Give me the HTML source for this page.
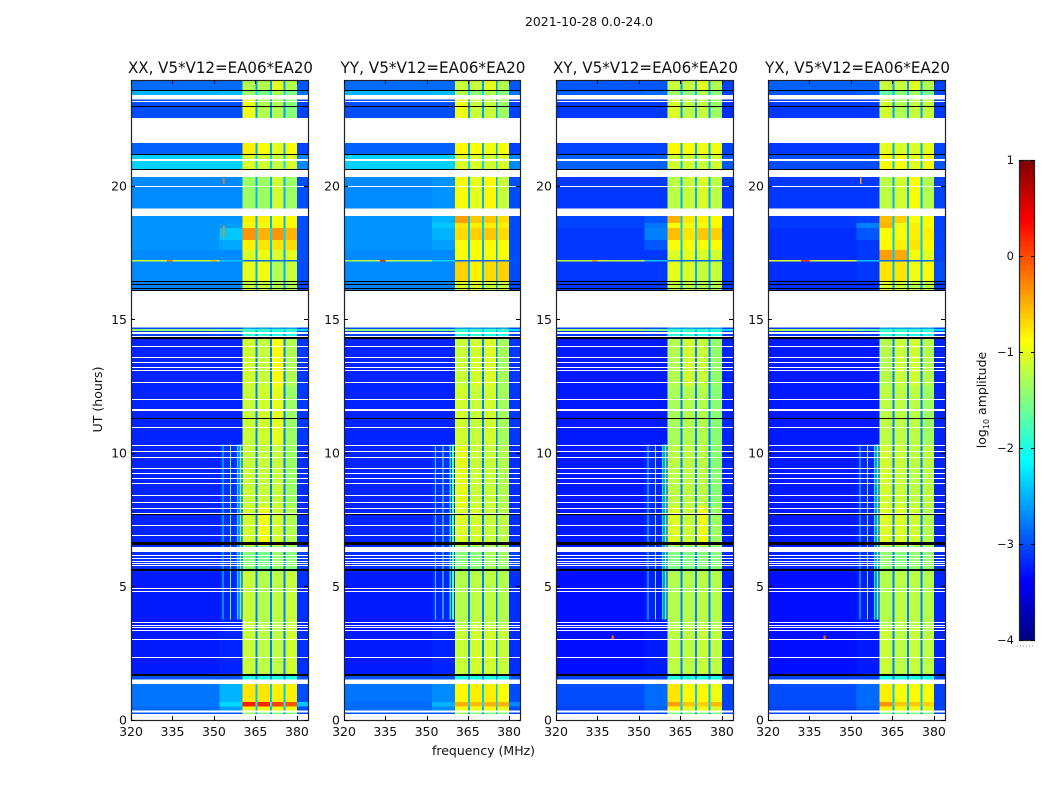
<!DOCTYPE html>
<html lang="en">
<head>
<meta charset="utf-8">
<title>2021-10-28 0.0-24.0</title>
<style>
html,body{margin:0;padding:0;background:#fff;width:1050px;height:800px;overflow:hidden}
svg{display:block}
text{font-family:"DejaVu Sans","Liberation Sans",sans-serif;fill:#111}
</style>
</head>
<body>
<svg id="figure" xmlns="http://www.w3.org/2000/svg" width="1050" height="800" viewBox="0 0 1050 800">
  <rect x="0" y="0" width="1050" height="800" fill="#fff"/>
  <text x="589" y="26" font-size="12.5" text-anchor="middle" textLength="128" lengthAdjust="spacingAndGlyphs">2021-10-28 0.0-24.0</text>
  <g id="panels"></g>
  <text x="483.5" y="755" font-size="12.5" text-anchor="middle" textLength="103" lengthAdjust="spacingAndGlyphs">frequency (MHz)</text>
  <text transform="translate(102,399.5) rotate(-90)" font-size="12.5" text-anchor="middle" textLength="66" lengthAdjust="spacingAndGlyphs">UT (hours)</text>
  <text transform="translate(986,400) rotate(-90)" font-size="12.5" text-anchor="middle">log<tspan font-size="8" dy="3">10</tspan><tspan dy="-3"> amplitude</tspan></text>
  <g id="colorbar"></g>
</svg>
<script>
// ---- chart data (hours, MHz, log10 amplitude) ----
const panelTitles = ["XX, V5*V12=EA06*EA20", "YY, V5*V12=EA06*EA20", "XY, V5*V12=EA06*EA20", "YX, V5*V12=EA06*EA20"];
const xTicks = [320, 335, 350, 365, 380];
const yTicks = [0, 5, 10, 15, 20];
const colorTicks = [1, 0, -1, -2, -3, -4];
// band index per frequency segment: 0 low, 1 near, 2-5 sub-bands, 6 gap, 7 high
const freqEdges = [320, 352, 360.4, 365.1, 365.8, 370.2, 370.9, 375.2, 375.9, 380, 384];
const segmentBand = [0, 1, 2, 6, 3, 6, 4, 6, 5, 7];
const rowTimes = [[23.95,23.58],[23.58,23.39],[23.23,22.53],[21.59,21.18],[21.18,20.62],[20.32,19.13],[18.86,18.6],[18.6,18.41],[18.41,17.96],[17.96,17.58],[17.58,17.21],[17.21,17.16],[17.16,16.42],[16.42,16.05],[14.62,14.55],[14.55,14.28],[14.28,12.5],[12.5,10.3],[10.3,8.0],[8.0,6.5],[6.5,5.55],[5.55,3.5],[3.5,1.65],[1.65,1.5],[1.33,0.65],[0.65,0.48],[0.48,0.33],[0.26,0.2],[14.68,14.62]];
const valuesXX = [
[-2.85,-2.85,-1.25,-1.25,-1.0,-1.25,-2.6,-2.95],[-2.5,-2.45,-1.35,-1.55,-1.25,-1.5,-2.3,-2.8],[-3.0,-3.0,-0.95,-1.25,-1.25,-1.45,-2.6,-3.05],
[-2.9,-2.9,-0.8,-0.9,-1.0,-0.9,-2.5,-3.05],[-2.35,-2.35,-1.05,-1.1,-1.15,-1.05,-2.3,-2.7],[-2.7,-2.7,-1.35,-1.35,-1.1,-1.35,-2.5,-3.0],
[-2.65,-2.65,-0.8,-0.8,-0.9,-0.85,-2.5,-3.0],[-2.65,-2.6,-0.95,-0.95,-0.85,-0.85,-2.5,-3.0],[-2.65,-2.4,-0.35,-0.5,-0.35,-0.5,-2.3,-3.0],
[-2.65,-2.55,-0.8,-0.75,-0.75,-0.7,-2.4,-3.0],[-2.7,-2.7,-1.05,-0.95,-1.05,-1.0,-2.5,-3.0],[-1.15,-2.4,-2.85,-2.85,-2.85,-2.85,-3.0,-2.95],
[-2.7,-2.7,-1.0,-0.95,-1.25,-1.15,-2.5,-3.0],[-2.75,-2.75,-1.15,-1.15,-1.25,-1.25,-2.6,-3.05],[-1.4,-1.6,-1.8,-1.8,-1.8,-1.8,-2.2,-2.3],
[-3.05,-3.05,-1.9,-1.9,-2.0,-2.0,-2.7,-3.05],[-3.2,-3.2,-1.1,-1.15,-0.9,-1.25,-2.75,-3.1],[-3.2,-3.2,-1.15,-1.1,-1.0,-1.35,-2.75,-3.1],
[-3.2,-3.15,-1.15,-1.15,-1.15,-1.35,-2.75,-3.15],[-3.2,-3.15,-1.1,-0.95,-1.1,-1.25,-2.75,-3.15],[-3.15,-3.1,-1.45,-1.55,-1.35,-1.45,-2.75,-3.05],
[-3.25,-3.2,-1.15,-1.25,-1.2,-1.15,-2.75,-3.15],[-3.25,-3.2,-1.15,-1.2,-1.2,-1.1,-2.75,-3.15],[-2.95,-2.95,-2.0,-2.0,-2.0,-2.0,-2.7,-2.95],
[-2.8,-2.5,-0.75,-0.75,-0.8,-0.8,-2.4,-3.0],[-2.8,-2.3,0.25,0.2,0.05,-0.05,-2.2,-2.4],[-2.85,-2.6,-0.95,-0.95,-0.95,-0.95,-2.5,-3.0],[-2.95,-2.95,-1.35,-1.45,-1.45,-1.45,-2.7,-3.05],[-3.0,-3.0,-2.6,-2.6,-2.6,-2.6,-2.8,-3.0]];
const valuesYY = [
[-2.85,-2.85,-1.15,-1.15,-1.0,-1.25,-2.6,-2.95],[-2.5,-2.45,-1.25,-1.45,-1.25,-1.45,-2.3,-2.8],[-3.0,-3.0,-0.95,-1.15,-1.15,-1.35,-2.6,-3.05],
[-2.9,-2.9,-0.85,-0.9,-0.95,-0.9,-2.5,-3.05],[-2.35,-2.35,-1.05,-1.05,-1.1,-1.05,-2.3,-2.7],[-2.7,-2.65,-0.9,-1.0,-0.85,-1.15,-2.5,-3.0],
[-2.65,-2.5,-0.4,-0.6,-0.6,-0.7,-2.4,-3.0],[-2.65,-2.4,-0.75,-0.8,-0.8,-0.8,-2.4,-3.0],[-2.65,-2.5,-0.7,-0.65,-0.6,-0.7,-2.4,-3.0],
[-2.65,-2.6,-0.9,-0.9,-0.85,-0.9,-2.5,-3.0],[-2.7,-2.7,-0.9,-0.9,-0.9,-0.9,-2.5,-3.0],[-1.25,-2.3,-2.85,-2.85,-2.85,-2.85,-3.0,-2.95],
[-2.7,-2.7,-0.65,-0.8,-0.7,-0.65,-2.5,-3.0],[-2.75,-2.75,-1.05,-1.05,-1.15,-1.15,-2.6,-3.05],[-1.4,-1.6,-1.8,-1.8,-1.8,-1.8,-2.2,-2.3],
[-3.05,-3.05,-1.9,-1.9,-2.0,-2.0,-2.7,-3.05],[-3.2,-3.2,-1.15,-1.1,-1.05,-1.3,-2.75,-3.1],[-3.2,-3.2,-1.1,-1.15,-1.1,-1.3,-2.75,-3.1],
[-3.2,-3.15,-1.0,-1.15,-1.15,-1.25,-2.75,-3.15],[-3.2,-3.15,-1.05,-1.1,-1.15,-1.2,-2.75,-3.15],[-3.15,-3.1,-1.45,-1.45,-1.3,-1.35,-2.75,-3.05],
[-3.25,-3.2,-1.25,-1.2,-1.2,-1.25,-2.75,-3.15],[-3.25,-3.2,-1.15,-1.1,-1.1,-1.15,-2.75,-3.15],[-2.95,-2.95,-2.0,-2.0,-2.0,-2.0,-2.7,-2.95],
[-2.8,-2.7,-0.85,-0.8,-0.8,-0.9,-2.4,-3.0],[-2.85,-2.5,-0.5,-0.55,-0.5,-0.5,-2.3,-2.7],[-2.85,-2.7,-0.9,-0.95,-0.9,-0.95,-2.5,-3.0],[-2.95,-2.95,-1.35,-1.45,-1.45,-1.45,-2.7,-3.05],[-3.0,-3.0,-2.6,-2.6,-2.6,-2.6,-2.8,-3.0]];
const valuesXY = [
[-2.95,-2.95,-1.15,-1.15,-1.0,-1.25,-2.6,-3.05],[-2.9,-2.85,-1.35,-1.45,-1.25,-1.45,-2.4,-3.05],[-3.1,-3.1,-1.05,-1.2,-1.15,-1.35,-2.6,-3.15],
[-3.05,-3.05,-0.85,-0.9,-0.95,-0.95,-2.5,-3.05],[-2.9,-2.9,-1.1,-1.1,-1.15,-1.1,-2.4,-2.95],[-3.1,-3.1,-1.2,-1.15,-1.05,-1.2,-2.5,-3.1],
[-3.05,-2.95,-0.5,-0.75,-0.8,-0.85,-2.4,-3.1],[-3.05,-2.8,-0.9,-0.95,-0.9,-0.85,-2.4,-3.1],[-3.1,-2.75,-0.55,-0.75,-0.6,-0.65,-2.3,-3.1],
[-3.1,-2.95,-0.9,-0.9,-0.9,-0.9,-2.4,-3.1],[-3.1,-3.1,-1.05,-1.0,-1.05,-1.1,-2.5,-3.1],[-1.2,-2.4,-2.85,-2.85,-2.85,-2.85,-3.0,-3.05],
[-3.1,-3.1,-1.0,-1.05,-1.15,-1.15,-2.5,-3.1],[-3.1,-3.1,-1.15,-1.2,-1.25,-1.25,-2.6,-3.1],[-1.3,-1.6,-1.8,-1.8,-1.8,-1.8,-2.2,-2.3],
[-3.1,-3.1,-1.9,-1.9,-2.0,-2.0,-2.7,-3.1],[-3.25,-3.25,-1.25,-1.1,-1.15,-1.4,-2.75,-3.2],[-3.25,-3.25,-1.3,-1.25,-1.25,-1.45,-2.75,-3.2],
[-3.25,-3.2,-1.2,-1.2,-1.2,-1.45,-2.75,-3.2],[-3.25,-3.2,-1.05,-1.15,-0.95,-1.35,-2.75,-3.2],[-3.2,-3.15,-1.5,-1.5,-1.45,-1.45,-2.75,-3.15],
[-3.3,-3.25,-1.25,-1.25,-1.2,-1.25,-2.75,-3.2],[-3.3,-3.25,-1.2,-1.2,-1.15,-1.2,-2.75,-3.2],[-3.05,-3.05,-2.0,-2.0,-2.0,-2.0,-2.7,-3.05],
[-3.0,-2.85,-0.75,-0.85,-0.85,-0.95,-2.4,-3.05],[-3.0,-2.85,-0.4,-0.6,-0.65,-0.55,-2.3,-3.05],[-3.05,-2.9,-0.9,-1.0,-0.95,-1.05,-2.5,-3.05],[-3.05,-3.05,-1.45,-1.45,-1.45,-1.45,-2.7,-3.05],[-3.05,-3.05,-2.6,-2.6,-2.6,-2.6,-2.8,-3.05]];
const valuesYX = [
[-2.9,-2.9,-1.15,-1.15,-1.0,-1.25,-2.6,-3.05],[-2.95,-2.9,-1.65,-1.45,-1.35,-1.55,-2.4,-3.05],[-3.1,-3.1,-1.1,-1.25,-1.15,-1.15,-2.6,-3.1],
[-3.1,-3.1,-1.0,-1.05,-1.05,-1.0,-2.5,-3.05],[-3.0,-3.0,-0.85,-0.9,-1.0,-0.9,-2.4,-2.95],[-3.1,-3.1,-1.2,-1.1,-0.9,-1.25,-2.5,-3.05],
[-3.1,-3.05,-0.55,-0.65,-0.9,-0.85,-2.4,-3.05],[-3.1,-2.75,-0.5,-0.95,-0.8,-0.9,-2.4,-3.05],[-3.15,-2.95,-0.9,-0.9,-0.8,-0.8,-2.4,-3.05],
[-3.15,-3.1,-0.85,-0.8,-0.75,-0.85,-2.4,-3.05],[-3.15,-3.1,-0.4,-0.45,-0.9,-1.0,-2.4,-3.05],[-1.05,-2.4,-2.85,-2.85,-2.85,-2.85,-3.0,-3.05],
[-3.15,-3.1,-0.75,-0.75,-0.95,-0.9,-2.5,-3.0],[-3.15,-3.15,-1.05,-1.1,-1.2,-1.2,-2.6,-3.1],[-1.3,-1.6,-1.8,-1.8,-1.8,-1.8,-2.2,-2.3],
[-3.1,-3.1,-1.9,-1.9,-2.0,-2.0,-2.7,-3.1],[-3.25,-3.25,-1.25,-1.15,-1.1,-1.25,-2.75,-3.2],[-3.25,-3.25,-1.2,-1.2,-1.2,-1.35,-2.75,-3.2],
[-3.25,-3.2,-1.1,-1.15,-1.2,-1.2,-2.75,-3.2],[-3.25,-3.2,-1.05,-1.05,-1.1,-1.25,-2.75,-3.2],[-3.2,-3.15,-1.4,-1.45,-1.4,-1.4,-2.75,-3.15],
[-3.3,-3.25,-1.25,-1.2,-1.2,-1.25,-2.75,-3.2],[-3.3,-3.25,-1.15,-1.2,-1.15,-1.2,-2.75,-3.2],[-3.05,-3.05,-2.0,-2.0,-2.0,-2.0,-2.7,-3.05],
[-3.0,-2.85,-0.8,-0.9,-0.85,-0.9,-2.4,-3.05],[-3.0,-2.85,-0.35,-0.6,-0.6,-0.65,-2.3,-3.05],[-3.05,-2.9,-0.8,-0.95,-0.95,-1.0,-2.5,-3.05],[-3.05,-3.05,-1.45,-1.45,-1.45,-1.45,-2.7,-3.05],[-3.05,-3.05,-2.6,-2.6,-2.6,-2.6,-2.8,-3.05]];
const panelValues = [valuesXX, valuesYY, valuesXY, valuesYX];
// vertical interference tones: [f0, f1, t0, t1, log10 amplitude]
const toneBands = [[353.0,353.4,10.3,3.75,-2.2],[355.8,356.2,10.3,3.75,-1.7],[358.3,358.9,10.3,3.75,-2.2],[359.2,360.0,10.3,3.75,-1.7]];
// flagged (blank) rows: [t0, t1]
const flaggedRows = [[23.39,23.23],[23.15,23.1],[21.0,20.93],[20.0,19.96],[14.5,14.42],[14.38,14.33],[13.98,13.95],[13.58,13.54],[13.4,13.37],[13.22,13.19],[13.1,13.05],[12.65,12.62],[12.0,11.95],[11.63,11.56],[10.95,10.92],[10.28,10.24],[10.05,10.0],[9.85,9.8],[9.42,9.39],[9.24,9.21],[9.05,9.02],[8.85,8.8],[8.42,8.39],[8.15,8.12],[7.92,7.89],[7.72,7.69],[7.28,7.25],[6.92,6.89],[6.45,6.28],[6.15,6.12],[6.05,6.02],[5.93,5.9],[5.85,5.82],[5.78,5.75],[4.94,4.91],[4.8,4.78],[3.64,3.61],[3.55,3.53],[3.46,3.43],[3.36,3.33],[3.01,2.98],[2.33,2.3]];
// dropout (black) rows: [t0, t1]
const dropoutRows = [[23.58,23.56],[22.98,22.94],[21.18,21.15],[20.62,20.57],[16.42,16.38],[16.31,16.27],[16.16,16.12],[16.07,16.04],[14.32,14.25],[11.28,11.25],[7.7,7.66],[6.63,6.52],[5.62,5.55],[1.71,1.64]];
// isolated hot interference: [panel, f0, f1, t0, t1, log10 amplitude]
const hotSpots = [[0,353.2,353.8,20.3,20.05,-0.2],[3,353.2,353.8,20.3,20.05,-0.4],[0,353.2,353.8,18.5,18.05,-0.3],[2,340,341,3.15,3.0,0.0],[3,340,341,3.15,3.0,0.0],[0,333,335,17.21,17.16,-0.2],[0,349,351,17.21,17.16,-0.5],[1,333,335,17.21,17.16,0.2],[2,333,335,17.21,17.16,-0.4],[3,332,335,17.21,17.16,0.1]];

// ---- axis functions ----
const panelLefts = [131, 344, 556, 768];
const panelRights = [308, 520, 733, 945];
const plotTop = 80, plotBottom = 720;
const xMin = 320, xMax = 384, yAtZero = 719.5, pxPerHour = 26.7;
const colorTop = 160, colorBottom = 640, colorLeft = 1019, colorRight = 1035;
const svgNS = "http://www.w3.org/2000/svg";
function xScale(p, f){ return panelLefts[p] + (f - xMin) * (panelRights[p] - panelLefts[p]) / (xMax - xMin); }
function yScale(t){ return Math.max(plotTop, Math.min(plotBottom, yAtZero - t * pxPerHour)); }
function colorScale(v){ return colorBottom - (v + 4) * (colorBottom - colorTop) / 5; }
function clamp01(v){ return Math.max(0, Math.min(1, v)); }
function jet(v){
  const x = clamp01((v + 4) / 5);
  const r = clamp01(1.5 - Math.abs(4 * x - 3));
  const g = clamp01(1.5 - Math.abs(4 * x - 2));
  const b = clamp01(1.5 - Math.abs(4 * x - 1));
  return "rgb(" + Math.round(r * 255) + "," + Math.round(g * 255) + "," + Math.round(b * 255) + ")";
}
function shape(parent, tag, props){
  const el = document.createElementNS(svgNS, tag);
  for (const k in props) el.setAttribute(k, props[k]);
  parent.appendChild(el);
  return el;
}
function label(parent, x, y, str, anchor, size){
  const el = shape(parent, "text", {x: x, y: y, "font-size": size, "text-anchor": anchor});
  el.textContent = str;
  return el;
}
function cell(parent, x0, x1, y0, y1, fill){
  return shape(parent, "rect", {x: x0, y: y0, width: Math.max(x1 - x0, 0.6), height: Math.max(y1 - y0, 0.6), fill: fill, "shape-rendering": "crispEdges"});
}
function hairline(parent, x0, x1, t0, t1, fill){
  const y = Math.round(yScale(t0));
  const h = Math.max(1, Math.round(yScale(t1) - yScale(t0)));
  return shape(parent, "rect", {x: x0, y: y, width: x1 - x0, height: h, fill: fill, "shape-rendering": "crispEdges"});
}

// ---- panels ----
const panelsRoot = document.getElementById("panels");
panelTitles.forEach(function(title, p){
  const g = shape(panelsRoot, "g", {});
  
  
  const L = panelLefts[p], R = panelRights[p];

  const titleEl = label(g, (L + R) / 2 + 1, 73, title, "middle", 16);
  titleEl.setAttribute("textLength", "185");
  titleEl.setAttribute("lengthAdjust", "spacingAndGlyphs");
  
  

  rowTimes.forEach(function(row, r){
    segmentBand.forEach(function(band, s){
      const c = cell(g, xScale(p, freqEdges[s]), xScale(p, freqEdges[s + 1]), yScale(row[0]), yScale(row[1]), jet(panelValues[p][r][band]));
      
      
    });
  });
  toneBands.forEach(function(tone){
    const c = cell(g, xScale(p, tone[0]), xScale(p, tone[1]), yScale(tone[2]), yScale(tone[3]), jet(tone[4]));
    
    
  });
  hotSpots.forEach(function(spot){
    if (spot[0] !== p) return;
    const c = cell(g, xScale(p, spot[1]), xScale(p, spot[2]), yScale(spot[3]), yScale(spot[4]), jet(spot[5]));
    
    
  });
  flaggedRows.forEach(function(row){
    const c = hairline(g, L, R, row[0], row[1], "#fff");
    
    
  });
  dropoutRows.forEach(function(row){
    const c = hairline(g, L, R, row[0], row[1], "#000");
    
    
  });

  const frame = shape(g, "rect", {x: L + 0.5, y: plotTop + 0.5, width: R - L, height: plotBottom - plotTop, fill: "none", stroke: "#222", "stroke-width": 1.2});
  
  

  xTicks.forEach(function(f){
    const x = Math.round(xScale(p, f)) + 0.5;
    const t1 = shape(g, "line", {x1: x, x2: x, y1: plotBottom, y2: plotBottom - 4, stroke: "#000"});
    
    
    const t2 = shape(g, "line", {x1: x, x2: x, y1: plotTop, y2: plotTop + 4, stroke: "#000"});
    
    
    const tl = label(g, xScale(p, f), 736, String(f), "middle", 12.5);
    
    
  });
  yTicks.forEach(function(t){
    const y = Math.round(yScale(t)) + 0.5;
    const t1 = shape(g, "line", {x1: L, x2: L + 4, y1: y, y2: y, stroke: "#000"});
    
    
    const t2 = shape(g, "line", {x1: R, x2: R - 4, y1: y, y2: y, stroke: "#000"});
    
    
    const tl = label(g, L - 4, yScale(t) + 5, String(t), "end", 12.5);
    
    
  });
});

// ---- colorbar ----
const cb = document.getElementById("colorbar");
for (let i = 0; i < 100; i++) {
  const v = -4 + i * 0.05;
  const swatch = cell(cb, colorLeft, colorRight, colorScale(v + 0.05), colorScale(v) + 0.5, jet(v + 0.025));
  
  
}
const cbFrame = shape(cb, "rect", {x: colorLeft + 0.5, y: colorTop + 0.5, width: colorRight - colorLeft - 1, height: colorBottom - colorTop, fill: "none", stroke: "#222", "stroke-width": 1.2});


colorTicks.forEach(function(v){
  const y = Math.round(colorScale(v)) + 0.5;
  const t1 = shape(cb, "line", {x1: colorLeft, x2: colorLeft + 4, y1: y, y2: y, stroke: "#000"});
  
  
  const t2 = shape(cb, "line", {x1: colorRight, x2: colorRight - 4, y1: y, y2: y, stroke: "#000"});
  
  
  const tl = label(cb, 1014, colorScale(v) + 4, (v < 0 ? "\u2212" + (-v) : String(v)), "end", 11.5);
  
  
});
const dots = shape(cb, "line", {x1: 1017, x2: 1035, y1: 646, y2: 646, stroke: "#888", "stroke-width": 1, "stroke-dasharray": "1 2"});


</script>
</body>
</html>
